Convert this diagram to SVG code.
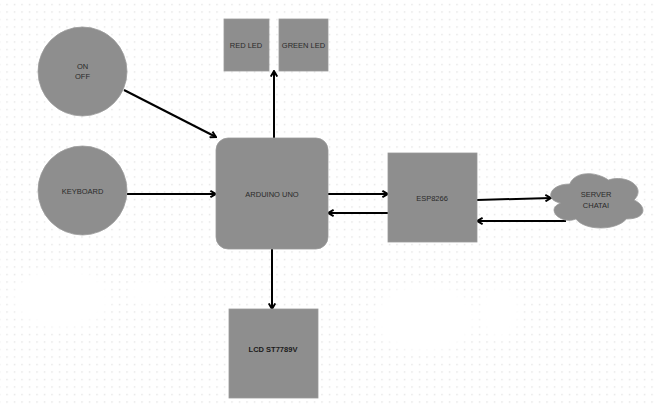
<svg xmlns="http://www.w3.org/2000/svg" width="654" height="405" viewBox="0 0 654 405">
<defs>
<pattern id="grid" x="3.5" y="1" width="7.5" height="7.5" patternUnits="userSpaceOnUse">
<rect x="3" y="3" width="1.1" height="1.1" fill="#d4d4d4"/>
</pattern>
<marker id="arr" viewBox="0 0 10 10" refX="8.5" refY="5" markerWidth="8" markerHeight="8" markerUnits="userSpaceOnUse" orient="auto">
<path d="M1.5,1 L8.5,5 L1.5,9" fill="none" stroke="#000" stroke-width="2.4"/>
</marker>
<filter id="soft" x="-20%" y="-20%" width="140%" height="140%"><feGaussianBlur stdDeviation="3"/></filter>
</defs>
<style>
.shape{fill:#8e8e8e;stroke:#9a9a9a;stroke-width:0.8}
.lbl{font-family:"Liberation Sans",Arial,sans-serif;font-size:7.5px;fill:#2a2a2a;text-anchor:middle;dominant-baseline:central}
.bold{font-weight:bold;fill:#1a1a1a}
.conn{stroke:#000;stroke-width:2;fill:none;marker-end:url(#arr)}
</style>
<rect width="654" height="405" fill="#fff"/>
<rect width="654" height="405" fill="url(#grid)"/>
<g id="bg-patches" fill="#fff" filter="url(#soft)">
<ellipse cx="62" cy="298" rx="48" ry="30"/>
<ellipse cx="150" cy="292" rx="22" ry="12"/>
<ellipse cx="425" cy="318" rx="50" ry="34"/>
<ellipse cx="500" cy="312" rx="20" ry="26"/>
</g>
<g id="connectors">
<line class="conn" x1="124" y1="90" x2="216" y2="137"/>
<line class="conn" x1="127" y1="194" x2="216" y2="194"/>
<line class="conn" x1="274" y1="138" x2="274" y2="71"/>
<line class="conn" x1="272" y1="249" x2="272" y2="309"/>
<line class="conn" x1="328" y1="194" x2="388" y2="194"/>
<line class="conn" x1="388" y1="213" x2="328" y2="213"/>
<line class="conn" x1="477" y1="200" x2="551" y2="198"/>
<line class="conn" x1="566" y1="221" x2="477" y2="221"/>
</g>
<g id="onoff">
<circle class="shape" cx="82.5" cy="71.5" r="44.5"/>
<text class="lbl" x="82.5" y="66">ON</text>
<text class="lbl" x="82.5" y="76.5">OFF</text>
</g>
<g id="keyboard">
<circle class="shape" cx="82.5" cy="190.5" r="44.5"/>
<text class="lbl" x="82.5" y="191">KEYBOARD</text>
</g>
<g id="red-led">
<rect class="shape" x="224" y="19" width="45" height="52"/>
<text class="lbl" x="246" y="45">RED LED</text>
</g>
<g id="green-led">
<rect class="shape" x="279" y="19" width="49" height="52"/>
<text class="lbl" x="303.5" y="45">GREEN LED</text>
</g>
<g id="arduino">
<rect class="shape" x="216" y="138" width="112" height="111" rx="12" ry="12"/>
<text class="lbl" x="272" y="194">ARDUINO UNO</text>
</g>
<g id="esp8266">
<rect class="shape" x="388" y="153" width="89" height="89"/>
<text class="lbl" x="432" y="198">ESP8266</text>
</g>
<g id="server">
<path class="shape" d="M569.8,184 C549.2,184 544,200 560.5,203 C544,210 562.5,225 575.9,219 C585.2,231 616,231 626.4,219 C647,219 647,206 634.1,200 C647,187 626.4,174 608.4,180 C595.5,171 574.9,171 569.8,184 Z"/>
<text class="lbl" x="596" y="194">SERVER</text>
<text class="lbl" x="596" y="205">CHATAI</text>
</g>
<g id="lcd">
<rect class="shape" x="229" y="309" width="89" height="89"/>
<text class="lbl bold" x="273" y="349">LCD ST7789V</text>
</g>
</svg>
